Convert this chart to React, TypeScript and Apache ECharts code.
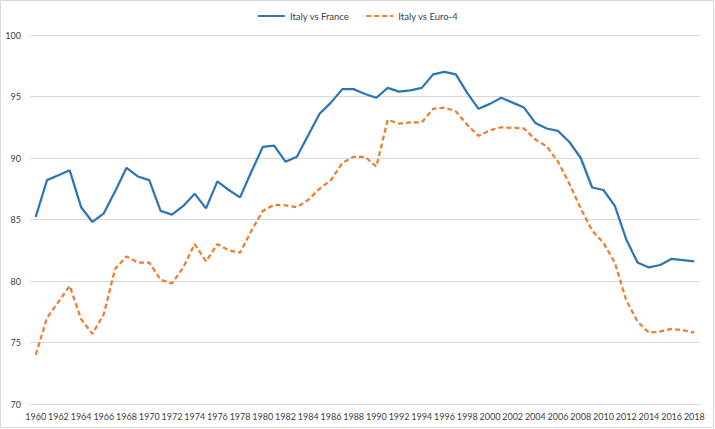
import React, { useEffect, useRef } from "react";
import * as echarts from "echarts";

const years: string[] = [];
for (let y = 1960; y <= 2018; y++) years.push(String(y));

const italyVsFrance = [
  85.2, 88.2, 88.6, 89.0, 86.0, 84.8, 85.5, 87.3, 89.2, 88.5,
  88.2, 85.7, 85.4, 86.1, 87.1, 85.9, 88.1, 87.4, 86.8, 88.9,
  90.9, 91.0, 89.7, 90.1, 91.85, 93.6, 94.5, 95.6, 95.6, 95.2,
  94.9, 95.7, 95.4, 95.5, 95.7, 96.8, 97.0, 96.8, 95.3, 94.0,
  94.4, 94.9, 94.5, 94.1, 92.85, 92.4, 92.2, 91.3, 90.0, 87.6,
  87.4, 86.1, 83.4, 81.5, 81.1, 81.3, 81.8, 81.7, 81.6,
];

const italyVsEuro4 = [
  74.0, 77.0, 78.3, 79.6, 76.9, 75.7, 77.3, 81.0, 82.0, 81.5,
  81.5, 80.1, 79.8, 81.1, 83.0, 81.6, 83.0, 82.5, 82.3, 84.1,
  85.7, 86.2, 86.15, 86.0, 86.6, 87.5, 88.2, 89.6, 90.1, 90.1,
  89.3, 93.1, 92.8, 92.9, 92.9, 94.0, 94.1, 93.8, 92.7, 91.8,
  92.25, 92.5, 92.45, 92.4, 91.5, 90.95, 89.7, 87.9, 85.9, 84.1,
  83.1, 81.5, 78.45, 76.7, 75.8, 75.9, 76.1, 76.0, 75.8,
];

const seriesNames = ["Italy vs France", "Italy vs Euro-4"];
const FONT = "Lato, 'Open Sans', sans-serif";

export default function App() {
  const ref = useRef<HTMLDivElement>(null);
  useEffect(() => {
    if (!ref.current) return;
    const chart = echarts.init(ref.current, undefined, { renderer: "svg" });
    chart.setOption({
      animation: false,
      backgroundColor: "#ffffff",
      textStyle: { fontFamily: FONT },
      legend: {
        top: 6,
        left: "center",
        itemWidth: 27,
        itemHeight: 8,
        itemGap: 16,
        itemStyle: { opacity: 0 },
        textStyle: { fontSize: 9.5, color: "#404040", fontFamily: FONT },
        data: seriesNames,
      },
      grid: { left: 30, right: 15, top: 35, bottom: 25, containLabel: false },
      xAxis: {
        type: "category",
        data: years,
        boundaryGap: true,
        axisLine: { show: true, lineStyle: { color: "#d9d9d9", width: 1 } },
        axisTick: { show: false },
        axisLabel: {
          interval: 1,
          fontSize: 9,
          color: "#404040",
          margin: 8,
          fontFamily: FONT,
        },
        splitLine: { show: false },
      },
      yAxis: {
        type: "value",
        min: 70,
        max: 100,
        interval: 5,
        axisLine: { show: false },
        axisTick: { show: false },
        axisLabel: { fontSize: 9, color: "#404040", margin: 9, fontFamily: FONT },
        splitLine: { lineStyle: { color: "#d9d9d9", width: 1 } },
      },
      series: [
        {
          name: seriesNames[0],
          type: "line",
          data: italyVsFrance,
          symbol: "none",
          lineStyle: { color: "#2E75B6", width: 2.25 },
          itemStyle: { color: "#2E75B6" },
        },
        {
          name: seriesNames[1],
          type: "line",
          data: italyVsEuro4,
          symbol: "none",
          lineStyle: { color: "#ED7D31", width: 2.25, type: [5, 3] },
          itemStyle: { color: "#ED7D31" },
        },
      ],
      graphic: [
        {
          type: "rect",
          shape: { x: 0.5, y: 0.5, width: 713, height: 427 },
          style: { fill: "none", stroke: "#d9d9d9", lineWidth: 1 },
          silent: true,
        },
      ],
    });
    return () => chart.dispose();
  }, []);
  return (
    <div
      ref={ref}
      style={{ position: "fixed", left: 0, top: 0, width: 715, height: 429 }}
    />
  );
}
